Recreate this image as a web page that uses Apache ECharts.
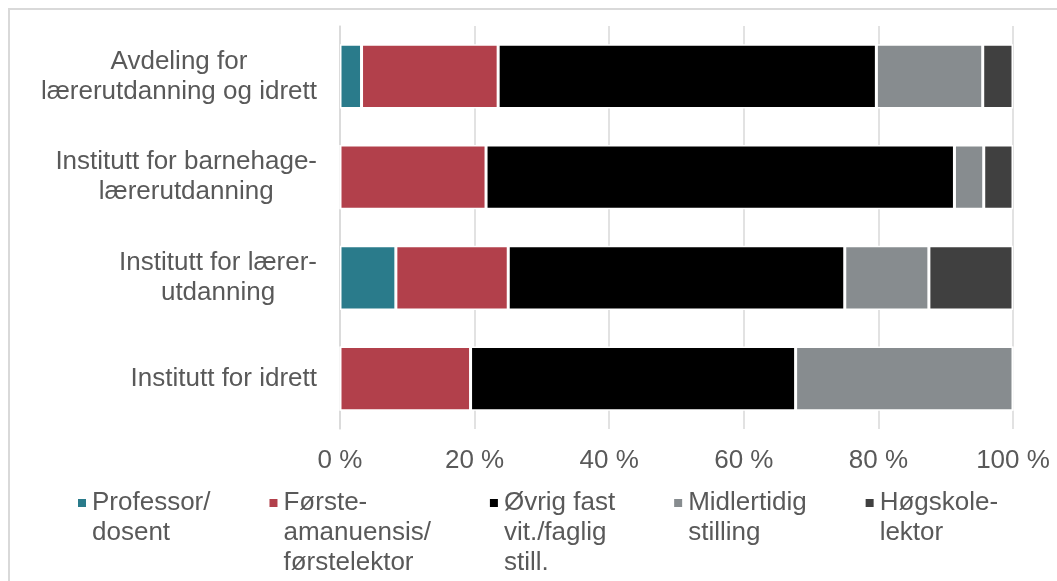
<!DOCTYPE html>
<html>
<head>
<meta charset="utf-8">
<script src="https://cdn.jsdelivr.net/npm/echarts@6/dist/echarts.min.js"></script>
<style>
html,body{margin:0;padding:0;background:#fff;}
#chart{width:1057px;height:581px;}
</style>
</head>
<body>
<div id="chart"></div>
<script>
const categories = [
  'Avdeling for\nlærerutdanning og idrett',
  'Institutt for barnehage-\nlærerutdanning',
  'Institutt for lærer-\nutdanning',
  'Institutt for idrett'
];
const seriesNames = [
  'Professor/\ndosent',
  'Første-\namanuensis/\nførstelektor',
  'Øvrig fast\nvit./faglig\nstill.',
  'Midlertidig\nstilling',
  'Høgskole-\nlektor'
];
const professor   = [3.2, 0,    8.3,  0];
const forste      = [20.3, 21.7, 16.7, 19.4];
const ovrig       = [56.2, 69.6, 50.0, 48.3];
const midlertidig = [15.8, 4.35, 12.5, 32.3];
const hogskole    = [4.5,  4.35, 12.5, 0];
const tickValues = [0, 20, 40, 60, 80, 100];

const colors = ['#2A7B8B', '#B2404B', '#000000', '#878C8F', '#404040'];
const seriesData = [professor, forste, ovrig, midlertidig, hogskole];
const FONT = "'Liberation Sans', Arial, sans-serif";
const TXT = '#595959';

const chart = echarts.init(document.getElementById('chart'), null, {renderer: 'canvas'});
chart.setOption({
  animation: false,
  backgroundColor: '#fff',
  graphic: [{
    type: 'rect', silent: true, z: -10,
    shape: {x: 9, y: 9, width: 1300, height: 900},
    style: {fill: 'none', stroke: '#d9d9d9', lineWidth: 2}
  }],
  grid: {left: 340, right: 44, top: 26, bottom: 152, containLabel: false},
  xAxis: {
    type: 'value', min: tickValues[0], max: tickValues[tickValues.length - 1], interval: 20,
    axisLine: {show: false}, axisTick: {show: false},
    splitLine: {show: true, lineStyle: {color: '#d9d9d9', width: 1.5}},
    axisLabel: {formatter: '{value} %', fontFamily: FONT, fontSize: 26, color: TXT, margin: 19}
  },
  yAxis: {
    type: 'category', data: categories, inverse: true,
    axisLine: {show: true, lineStyle: {color: '#d9d9d9', width: 1.5}},
    axisTick: {show: false},
    axisLabel: {
      margin: 23, align: 'right',
      formatter: function (v) { return v.split('\n').map(l => '{c|' + l + '}').join('\n'); },
      rich: {c: {align: 'center', fontFamily: FONT, fontSize: 26, lineHeight: 30, color: TXT}}
    }
  },
  legend: {
    left: 76, top: 428, padding: 0, itemGap: 57,
    itemWidth: 10, itemHeight: 10, icon: 'rect',
    data: seriesNames,
    formatter: function (name) {
      // two blank lines above so the first line sits beside the marker
      const lines = name.split('\n');
      while (lines.length < 3) lines.push(' ');
      return ' \n \n' + lines.join('\n');
    },
    textStyle: {fontFamily: FONT, fontSize: 26, lineHeight: 30, color: TXT}
  },
  series: seriesNames.map((name, i) => ({
    name: name, type: 'bar', stack: 'total', barCategoryGap: '36%',
    data: seriesData[i],
    itemStyle: {color: colors[i], borderColor: '#ffffff', borderWidth: 1.5},
    emphasis: {disabled: true}
  }))
});
</script>
</body>
</html>
